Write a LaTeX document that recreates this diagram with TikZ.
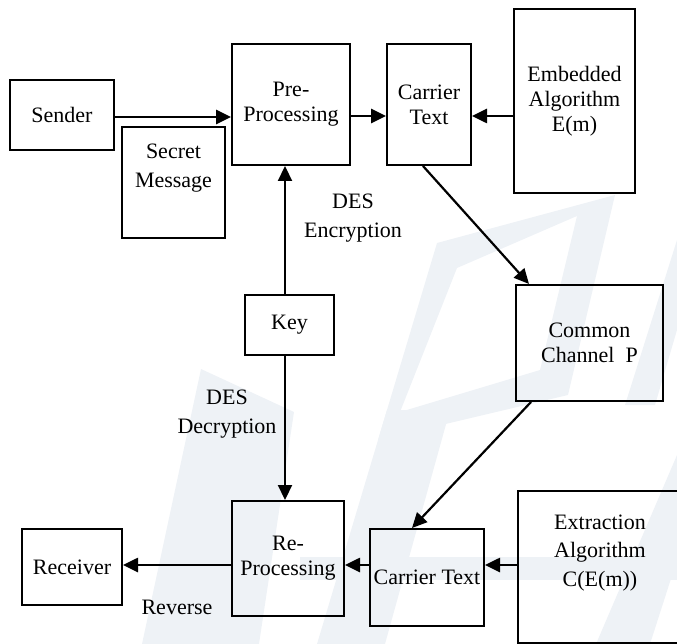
\documentclass[tikz,border=0pt]{standalone}
\usepackage{fontspec}
\setmainfont{Liberation Serif}
\usetikzlibrary{arrows.meta}
\definecolor{wm}{HTML}{EEF2F6}
\tikzset{
  box/.style={draw, line width=2pt, inner sep=0pt, align=center,
    font=\fontsize{22}{25}\selectfont},
  txt/.style={inner sep=0pt, align=center, font=\fontsize{22}{28.5}\selectfont},
  arr/.style={line width=2.6pt, -{Triangle[length=15pt,width=14pt]}},
  thinarr/.style={line width=2.2pt, -{Triangle[length=15pt,width=14pt]}}
}
\begin{document}
\begin{tikzpicture}[x=1pt,y=-1pt]
\useasboundingbox (0,0) rectangle (677,644);
\clip (0,0) rectangle (677,644);
% faint watermark
\fill[wm] (201,369) -- (294,412) -- (259,644) -- (142,644) -- cycle;
\fill[wm] (387,410) -- (450,410) -- (385,644) -- (317,644) -- cycle;
\fill[wm] (300,557) rectangle (677,580);
\fill[wm,even odd rule] (378,440) -- (437,243) -- (615,195) -- (568,395) -- cycle
  (400,412) -- (457,268) -- (577,216) -- (540,370) -- cycle;
\fill[wm] (625,405) -- (677,240) -- (677,330) -- (655,405) -- cycle;
\fill[wm] (596,644) -- (650,644) -- (677,560) -- (677,455) -- cycle;

% nodes
\node[box, minimum width=104.5pt, minimum height=70pt] (sender) at (62,115) {Sender};
\node[box, minimum width=103pt, minimum height=111pt] (secret) at (173.5,182.5) {};
\node[txt] (secrett) at (173.5,168) {Secret\\Message};
\node[box, minimum width=118pt, minimum height=121pt] (pre) at (291,104.5) {Pre-\\Processing};
\node[box, minimum width=84pt, minimum height=121pt] (carrA) at (429,104.5) {Carrier\\Text};
\node[box, minimum width=121pt, minimum height=184pt] (emb) at (574.5,101) {Embedded\\Algorithm\\E(m)};
\node[box, minimum width=89pt, minimum height=60pt] (key) at (289.5,325) {Key};
\node[box, minimum width=147pt, minimum height=116pt] (common) at (589.5,343) {Common\\Channel\ \ P};
\node[box, minimum width=112pt, minimum height=115pt] (re) at (288,558.5) {Re-\\Processing};
\node[box, minimum width=100pt, minimum height=76pt] (receiver) at (72,567) {Receiver};
\node[box, minimum width=114pt, minimum height=97pt] (carrB) at (427,577.5) {Carrier Text};
\node[box, minimum width=164pt, minimum height=152pt] (ext) at (600,567) {};
\node[txt] (extt) at (600,553) {Extraction\\Algorithm\\C(E(m))};

% labels
\node[txt] (desenc) at (353,218) {DES\\Encryption};
\node[txt] (desdec) at (227,414) {DES\\Decryption};
\node[txt] (rev) at (177,607) {Reverse};

% connectors
\draw[arr] ([yshift=-2pt]sender.east) -- ([yshift=-2pt]sender.east -| pre.west);
\draw[arr] ([yshift=-11.5pt]pre.east) -- ([yshift=-11.5pt]pre.east -| carrA.west);
\draw[arr] ([yshift=-15pt]emb.west) -- ([yshift=-15pt]emb.west -| carrA.east);
\draw[thinarr] ([xshift=-4.5pt]key.north) -- ([xshift=-4.5pt]key.north |- pre.south);
\draw[thinarr] ([xshift=-6pt]carrA.south) -- ([xshift=-60.5pt]common.north);
\draw[thinarr] ([xshift=-4.5pt]key.south) -- ([xshift=-4.5pt]key.south |- re.north);
\draw[thinarr] ([xshift=-58.5pt]common.south) -- ([xshift=-15pt]carrB.north);
\draw[arr] ([yshift=2pt]ext.west) -- ([yshift=2pt]ext.west -| carrB.east);
\draw[arr] ([yshift=12.5pt]carrB.west) -- ([yshift=12.5pt]carrB.west -| re.east);
\draw[arr] ([yshift=-6.5pt]re.west) -- ([yshift=-6.5pt]re.west -| receiver.east);
\end{tikzpicture}
\end{document}
